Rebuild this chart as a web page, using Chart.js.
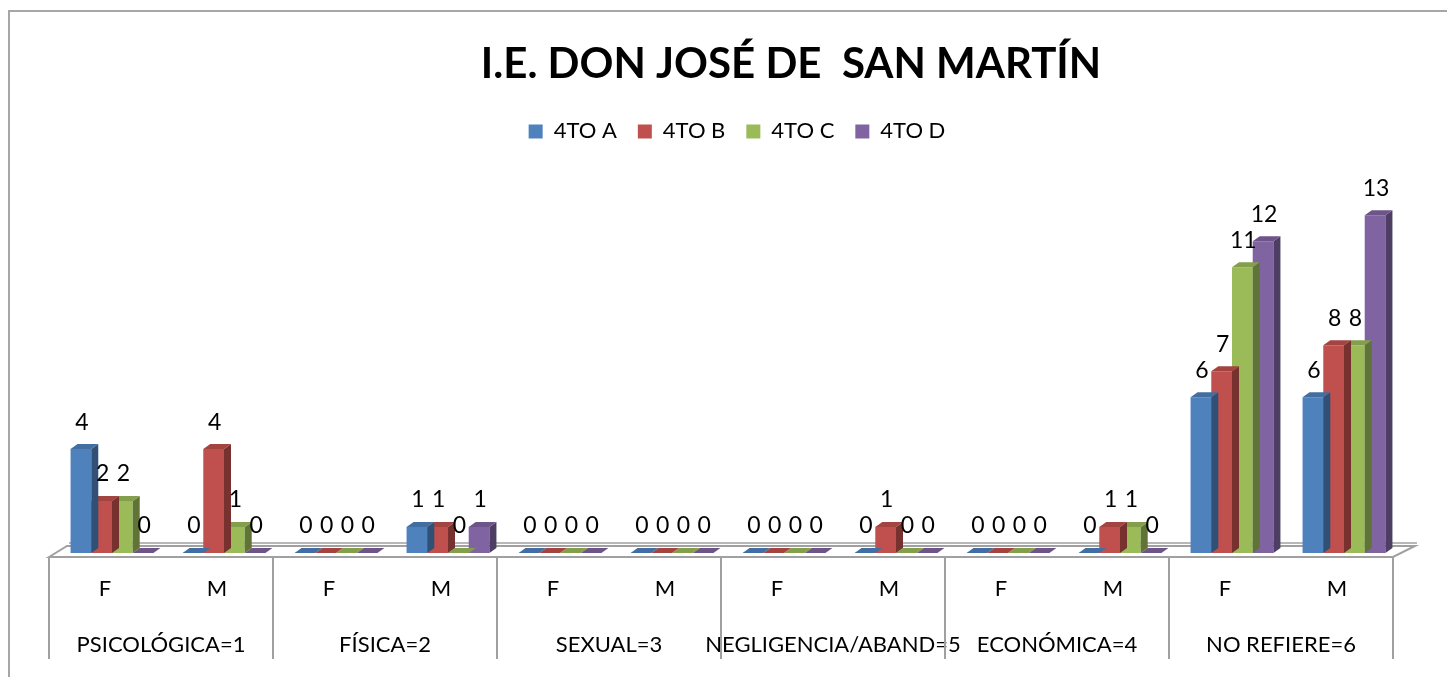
<!DOCTYPE html>
<html>
<head>
<meta charset="utf-8">
<title>I.E. DON JOSÉ DE SAN MARTÍN</title>
<script src="https://cdn.jsdelivr.net/npm/chart.js@4.4.1/dist/chart.umd.min.js"></script>
<style>
  html, body { margin: 0; padding: 0; background: #fff; }
  #wrap { width: 1447px; height: 677px; }
</style>
</head>
<body>
<div id="wrap"><canvas id="violenceChart" width="1447" height="677"></canvas></div>
<script>
// data
const subCategories = ['F', 'M', 'F', 'M', 'F', 'M', 'F', 'M', 'F', 'M', 'F', 'M'];
const groupLabels = ['PSICOLÓGICA=1', 'FÍSICA=2', 'SEXUAL=3', 'NEGLIGENCIA/ABAND=5', 'ECONÓMICA=4', 'NO REFIERE=6'];
const seriesNames = ['4TO A', '4TO B', '4TO C', '4TO D'];
const valuesA = [4, 0, 0, 1, 0, 0, 0, 0, 0, 0, 6, 6];
const valuesB = [2, 4, 0, 1, 0, 0, 0, 1, 0, 1, 7, 8];
const valuesC = [2, 1, 0, 0, 0, 0, 0, 0, 0, 1, 11, 8];
const valuesD = [0, 0, 0, 1, 0, 0, 0, 0, 0, 0, 12, 13];

const seriesColors = ['#4F81BD', '#C0504D', '#9BBB59', '#8064A2'];
const DX = 7, DY = 5; // 3d depth of a bar

function shade(hex, f) {
    let r = parseInt(hex.substr(1, 2), 16), g = parseInt(hex.substr(3, 2), 16), b = parseInt(hex.substr(5, 2), 16);
    return `rgb(${Math.round(r * f)}, ${Math.round(g * f)}, ${Math.round(b * f)})`;
}

// chart border, floor, category box, 3d faces and value labels
const floorPlugin = {
    id: 'floorPlugin',
    beforeDraw(chart) {
        // move title and legend to where the original has them
        if (chart.titleBlock) { chart.titleBlock.left += 63; chart.titleBlock.right += 63; }
        if (chart.legend) { chart.legend.left += 9; chart.legend.right += 9; }
        let ctx = chart.ctx;
        ctx.save();
        ctx.strokeStyle = '#a6a6a6';
        ctx.lineWidth = 2;
        ctx.beginPath();
        ctx.moveTo(9, 677);
        ctx.lineTo(9, 11);
        ctx.lineTo(1447, 11);
        ctx.stroke();
        ctx.restore();
    },
    beforeDatasetsDraw(chart) {
        let ctx = chart.ctx;
        let a = chart.chartArea;
        let L = a.left, R = a.right, B = a.bottom;
        ctx.save();
        ctx.fillStyle = '#fff';
        ctx.strokeStyle = '#a0a0a0';
        ctx.lineWidth = 2;
        ctx.beginPath();
        ctx.moveTo(L - DX, B + 4);
        ctx.lineTo(L + DX + 4, B - 7);
        ctx.lineTo(R + DX + 8, B - 7);
        ctx.lineTo(R - DX, B + 4);
        ctx.closePath();
        ctx.fill();
        ctx.stroke();
        ctx.lineWidth = 1.5;
        ctx.beginPath();
        ctx.moveTo(L + DX + 6, B - 10);
        ctx.lineTo(R + DX + 10, B - 10);
        ctx.stroke();

        // category box below the floor
        let cw = (R - L) / subCategories.length;
        let bottom = 659;
        ctx.lineWidth = 2;
        ctx.beginPath();
        for (let k = 0; k <= groupLabels.length; k++) {
            let x = L - DX + k * 2 * cw;
            ctx.moveTo(x, B + 4);
            ctx.lineTo(x, bottom);
        }
        ctx.stroke();
        ctx.restore();
    },
    afterDatasetDraw(chart, args) {
        let ctx = chart.ctx;
        let color = seriesColors[args.index];
        ctx.save();
        args.meta.data.forEach(bar => {
            let left = bar.x - bar.width / 2, right = bar.x + bar.width / 2;
            let top = bar.y, base = bar.base;
            ctx.fillStyle = shade(color, 0.62);
            ctx.beginPath();
            ctx.moveTo(right, top);
            ctx.lineTo(right + DX, top - DY);
            ctx.lineTo(right + DX, base - DY);
            ctx.lineTo(right, base);
            ctx.closePath();
            ctx.fill();
            ctx.fillStyle = shade(color, 0.85);
            ctx.beginPath();
            ctx.moveTo(left, top);
            ctx.lineTo(left + DX, top - DY);
            ctx.lineTo(right + DX, top - DY);
            ctx.lineTo(right, top);
            ctx.closePath();
            ctx.fill();
        });
        ctx.restore();
    },
    afterDatasetsDraw(chart) {
        let ctx = chart.ctx;
        ctx.save();
        ctx.fillStyle = '#000';
        ctx.font = '23px Lato';
        ctx.textAlign = 'center';
        ctx.textBaseline = 'middle';
        chart.data.datasets.forEach((ds, i) => {
            chart.getDatasetMeta(i).data.forEach((bar, j) => {
                ctx.fillText(String(ds.data[j]), bar.x + 1, bar.y - 27);
            });
        });
        ctx.restore();
    }
};

// extra room under the legend
const legendSpacer = {
    id: 'legendSpacer',
    beforeInit(chart) {
        if (!chart.legend) return;
        let origFit = chart.legend.fit;
        chart.legend.fit = function fit() {
            origFit.bind(chart.legend)();
            this.height += 37;
        };
    }
};

function renderChart() {
    Chart.defaults.font.family = 'Lato';
    Chart.defaults.color = '#000';
    let ctx = document.getElementById('violenceChart').getContext('2d');
    let datasets = [valuesA, valuesB, valuesC, valuesD].map((vals, i) => ({
        label: seriesNames[i],
        data: vals,
        backgroundColor: seriesColors[i],
        borderWidth: 0,
        categoryPercentage: 0.74,
        barPercentage: 1.0
    }));
    new Chart(ctx, {
        type: 'bar',
        data: { labels: subCategories, datasets: datasets },
        plugins: [legendSpacer, floorPlugin],
        options: {
            responsive: false,
            animation: false,
            layout: { padding: { left: 56, right: 47, top: 0, bottom: 20 } },
            plugins: {
                title: {
                    display: true,
                    text: 'I.E. DON JOSÉ DE  SAN MARTÍN',
                    font: { size: 42, weight: 'bold' },
                    color: '#000',
                    padding: { top: 39, bottom: 10 }
                },
                legend: {
                    position: 'top',
                    labels: { boxWidth: 14, boxHeight: 14, padding: 21, font: { size: 22 } }
                },
                tooltip: { enabled: false }
            },
            scales: {
                y: { display: false, min: 0, max: 14 },
                x: {
                    grid: { display: false, drawTicks: false },
                    border: { display: false },
                    ticks: { padding: 23, labelOffset: -7, maxRotation: 0, minRotation: 0, autoSkip: false, font: { size: 22 } },
                    afterFit(scale) { scale.height = 49; }
                },
                x2: {
                    type: 'category',
                    labels: groupLabels,
                    offset: true,
                    position: 'bottom',
                    grid: { display: false, drawTicks: false },
                    border: { display: false },
                    ticks: { padding: 30, labelOffset: -7, maxRotation: 0, minRotation: 0, autoSkip: false, font: { size: 22 } },
                    afterFit(scale) { scale.height = 55; }
                }
            }
        }
    });
}

renderChart();
</script>
</body>
</html>
